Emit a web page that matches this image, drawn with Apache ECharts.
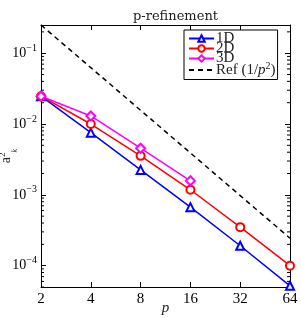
<!DOCTYPE html>
<html><head><meta charset="utf-8">
<script src="https://cdn.jsdelivr.net/npm/echarts@6/dist/echarts.min.js"></script>
<style>html,body{margin:0;padding:0;background:#fff}#c{width:301px;height:318px}</style>
</head><body><div id="c"></div>
<script>
const pValues = [2, 4, 8, 16, 32, 64];
const err1D = [0.0247, 0.00755, 0.00225, 0.00067, 0.000191, 0.000052];
const err2D = [0.0247, 0.0100, 0.00355, 0.00118, 0.00035, 0.000100];
const err3D = [0.0247, 0.0130, 0.00455, 0.00158];
const refValues = pValues.map(p => 1 / (p * p));
const minorTickValues = [];
for (let e = -5; e <= -1; e++) for (let m = 2; m <= 9; m++) {
  const v = m * Math.pow(10, e);
  if (v >= 5e-5 && v <= 0.25) minorTickValues.push(v);
}
const FONT = 'Liberation Serif';
const chart = echarts.init(document.getElementById('c'), null, {renderer: 'canvas'});
const supFmt = v => {
  const e = Math.round(Math.log10(v));
  if (Math.abs(v - Math.pow(10, e)) / v > 1e-6) return '';
  return '{b|10}{s|' + (e < 0 ? '\u2212' : '') + Math.abs(e) + '}';
};
const yLabelRich = {
  b: {fontFamily: FONT, fontSize: 14, color: '#000'},
  s: {fontFamily: FONT, fontSize: 10, color: '#000', verticalAlign: 'bottom', padding: [0, 0, 10, 0]}
};
const mk = (data) => pValues.slice(0, data.length).map((p, i) => [p, data[i]]);
chart.setOption({
  animation: false,
  title: {text: 'p-refinement', left: 128, top: 5, textStyle: {fontFamily: 'DejaVu Serif', fontSize: 13, fontWeight: 'normal', color: '#222'}},
  grid: {left: 41, right: 11, top: 25, bottom: 31, outerBoundsMode: 'none', containLabel: false},
  legend: {
    left: 184, top: 30, orient: 'vertical', itemGap: -5, itemWidth: 25, itemHeight: 8,
    padding: [1, 2, 2, 4], borderColor: '#000', borderWidth: 1, backgroundColor: '#fff',
    textStyle: {fontFamily: FONT, fontSize: 15, color: '#222', padding: [0,0,0,-3],
      rich: {i: {fontFamily: FONT, fontStyle: 'italic', fontSize: 15}, s: {fontFamily: FONT, fontSize: 10, verticalAlign: 'bottom', padding: [0,0,8,0]}}},
    formatter: n => n === 'Ref' ? 'Ref (1/{i|p}{s|2})' : n,
    data: ['1D', '2D', '3D', {name: 'Ref', itemStyle: {opacity: 0}}]
  },
  xAxis: [{
    type: 'log', logBase: 2, min: 2, max: 64,
    name: 'p', nameLocation: 'middle', nameGap: 14, nameMoveOverlap: false,
    nameTextStyle: {fontFamily: FONT, fontStyle: 'italic', fontSize: 15, color: '#222'},
    axisLine: {lineStyle: {color: '#000', width: 1}},
    axisTick: {inside: true, length: 5, lineStyle: {color: '#000'}},
    axisLabel: {fontFamily: FONT, fontSize: 15, color: '#000', margin: 5},
    splitLine: {show: false}
  }, {
    type: 'log', logBase: 2, min: 2, max: 64, position: 'top',
    axisLine: {lineStyle: {color: '#000', width: 1}},
    axisTick: {inside: true, length: 5, lineStyle: {color: '#000'}},
    axisLabel: {show: false}, splitLine: {show: false}
  }],
  yAxis: [{
    type: 'log', logBase: 10, min: 5e-5, max: 0.25,
    name: '{a|a}{s|2}{k|k}', nameLocation: 'middle', nameGap: 26, nameRotate: 90, nameMoveOverlap: false,
    nameTextStyle: {rich: {a: {fontFamily: FONT, fontSize: 14, color: '#222'},
      s: {fontFamily: FONT, fontSize: 9, color: '#222', verticalAlign: 'bottom', padding: [0,0,8,0]},
      k: {fontFamily: FONT, fontSize: 8, fontStyle: 'italic', color: '#222', verticalAlign: 'bottom', padding: [0,0,-4,0]}}},
    axisLine: {lineStyle: {color: '#000', width: 1}},
    axisTick: {inside: true, length: 5, lineStyle: {color: '#000'}},
    axisLabel: {formatter: supFmt, rich: yLabelRich, margin: 4, showMinLabel: false, showMaxLabel: false},
    splitLine: {show: false}, minorTick: {show: false}
  }, {
    type: 'log', logBase: 10, min: 5e-5, max: 0.25, position: 'right',
    axisLine: {lineStyle: {color: '#000', width: 1}},
    axisTick: {inside: true, length: 5, lineStyle: {color: '#000'}},
    axisLabel: {show: false}, splitLine: {show: false}
  }],
  series: [
    {name: '1D', type: 'line', data: mk(err1D), symbol: 'emptyTriangle', symbolSize: 8,
     lineStyle: {color: '#0000ff', width: 1.5}, itemStyle: {color: '#0000ff', borderWidth: 1.5}, z: 3},
    {name: '2D', type: 'line', data: mk(err2D), symbol: 'emptyCircle', symbolSize: 8,
     lineStyle: {color: '#ff0000', width: 1.5}, itemStyle: {color: '#ff0000', borderWidth: 1.5}, z: 3},
    {name: '3D', type: 'line', data: mk(err3D), symbol: 'emptyDiamond', symbolSize: 9,
     lineStyle: {color: '#ff00ff', width: 1.5}, itemStyle: {color: '#ff00ff', borderWidth: 1.5}, z: 3},
    {name: 'Ref', type: 'line', data: mk(refValues), symbol: 'none',
     lineStyle: {color: '#000', width: 1.5, type: [5, 4]}, itemStyle: {color: '#000'}, z: 2},
    {type: 'custom', silent: true, data: minorTickValues.map(v => [2, v]), clip: false,
     renderItem: (params, api) => {
       const v = api.value(1);
       const y = api.coord([2, v])[1];
       const cs = params.coordSys;
       const xl = cs.x, xr = cs.x + cs.width;
       return {type: 'group', children: [
         {type: 'line', shape: {x1: xl, y1: y, x2: xl + 3, y2: y}, style: {stroke: '#000', lineWidth: 1}},
         {type: 'line', shape: {x1: xr, y1: y, x2: xr - 3, y2: y}, style: {stroke: '#000', lineWidth: 1}}
       ]};
     }, encode: {x: 0, y: 1}}
  ]
});
</script></body></html>
